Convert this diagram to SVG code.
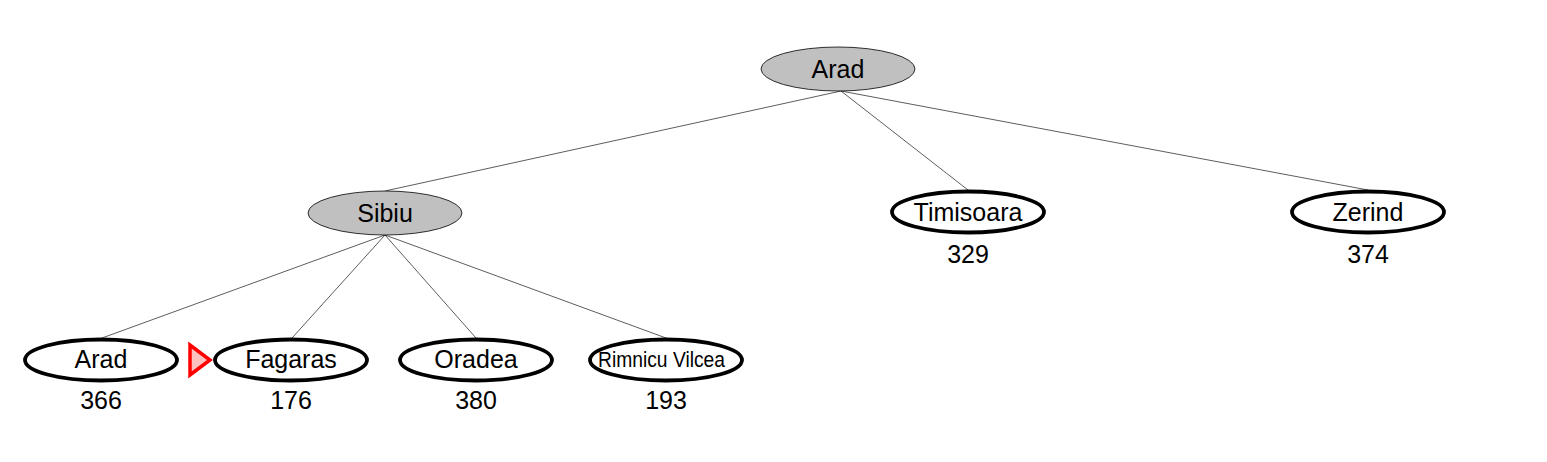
<svg xmlns="http://www.w3.org/2000/svg" width="1547" height="462" viewBox="0 0 1547 462">
<style>
.lbl{font-family:"Liberation Sans",Arial,sans-serif;font-size:25px;text-anchor:middle;fill:#000}
.exp{fill:#c0c0c0;stroke:#000;stroke-width:0.8}
.fr{fill:#fff;stroke:#000;stroke-width:3.8}
.edge{stroke:#333;stroke-width:0.8;fill:none}
</style>
<rect width="1547" height="462" fill="#fff"/>
<g id="connectors">
<line class="edge" x1="841" y1="91" x2="385" y2="191"/>
<line class="edge" x1="841" y1="91" x2="968" y2="190"/>
<line class="edge" x1="841" y1="91" x2="1368" y2="190"/>
<line class="edge" x1="385" y1="235" x2="102" y2="338"/>
<line class="edge" x1="385" y1="235" x2="292" y2="338"/>
<line class="edge" x1="385" y1="235" x2="476" y2="338"/>
<line class="edge" x1="385" y1="235" x2="666" y2="338"/>
</g>
<g id="n-arad-root"><ellipse class="exp" cx="838" cy="69" rx="77" ry="22"/><text class="lbl" x="838" y="78">Arad</text></g>
<g id="n-sibiu"><ellipse class="exp" cx="385" cy="213" rx="77" ry="22"/><text class="lbl" x="385" y="222">Sibiu</text></g>
<g id="n-timisoara"><ellipse class="fr" cx="968" cy="212" rx="76" ry="20.5"/><text class="lbl" x="968" y="221">Timisoara</text><text class="lbl" x="968" y="263">329</text></g>
<g id="n-zerind"><ellipse class="fr" cx="1368" cy="212" rx="76" ry="20.5"/><text class="lbl" x="1368" y="221">Zerind</text><text class="lbl" x="1368" y="263">374</text></g>
<g id="n-arad"><ellipse class="fr" cx="101" cy="360" rx="76" ry="20.5"/><text class="lbl" x="101" y="368">Arad</text><text class="lbl" x="101" y="409">366</text></g>
<g id="n-fagaras"><ellipse class="fr" cx="291" cy="360" rx="76" ry="20.5"/><text class="lbl" x="291" y="368">Fagaras</text><text class="lbl" x="291" y="409">176</text></g>
<g id="n-oradea"><ellipse class="fr" cx="476" cy="360" rx="76" ry="20.5"/><text class="lbl" x="476" y="368">Oradea</text><text class="lbl" x="476" y="409">380</text></g>
<g id="n-rimnicu"><ellipse class="fr" cx="666" cy="360" rx="76" ry="20.5"/><text class="lbl" x="661.5" y="367" style="font-size:22.5px" textLength="127" lengthAdjust="spacingAndGlyphs">Rimnicu Vilcea</text><text class="lbl" x="666" y="409">193</text></g>
<g id="pointer"><polygon points="190,345 190,375 210,360" fill="#ffc0c0" stroke="#ff0000" stroke-width="3.5"/></g>
</svg>
